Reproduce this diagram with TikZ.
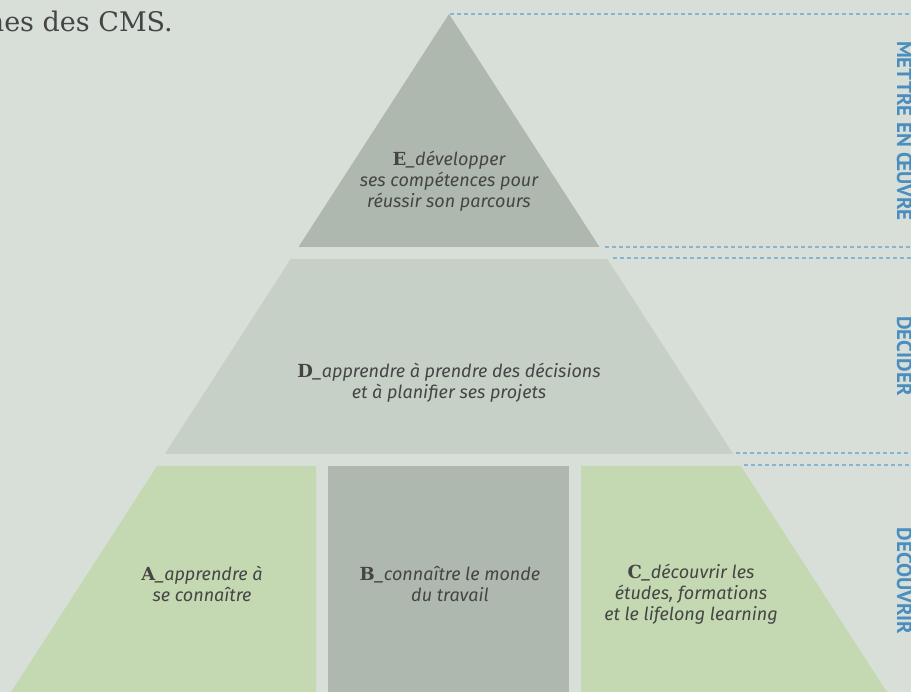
\documentclass[tikz,border=0pt]{standalone}
\usepackage{fontspec}
\setmainfont{Fira Sans}
\newfontfamily\slabfont{DejaVu Serif}
\newfontfamily\phasefont{PT Sans}
\usepackage{tikz}
\usetikzlibrary{positioning}

\definecolor{paper}{HTML}{D8DFD8}
\definecolor{stone}{HTML}{AFB8AF}
\definecolor{mist}{HTML}{C6D0C7}
\definecolor{sage}{HTML}{C4D9B2}
\definecolor{ink}{HTML}{454545}
\definecolor{phaseblue}{HTML}{4A8EC0}
\definecolor{guideblue}{HTML}{86B5D2}

\newcommand{\tierletter}[1]{{\slabfont\bfseries\upshape #1}\_}

\tikzset{
  tier/.style={text=ink, align=center, inner sep=0pt, font=\fontsize{18}{21}\selectfont\itshape},
  phase/.style={text=phaseblue, rotate=-90, anchor=base, inner sep=0pt, font=\fontsize{21}{21}\selectfont\phasefont\bfseries},
  guide/.style={draw=guideblue, line width=1.3pt, dash pattern=on 4pt off 3pt},
}

\begin{document}
\begin{tikzpicture}[x=1pt, y=-1pt]
    \useasboundingbox (0,0) rectangle (911,692);
    \fill[paper] (0,0) rectangle (911,692);
    \coordinate (edge) at (911,0);

    % pyramid corners
    \coordinate (apex) at (449,14);
    \coordinate (eL) at (298.5,247);
    \coordinate (eR) at (599.5,247);
    \coordinate (dTL) at (290.7,259);
    \coordinate (dTR) at (607.3,259);
    \coordinate (dBL) at (164.8,454);
    \coordinate (dBR) at (733.2,454);
    \coordinate (bTL) at (157.1,466);
    \coordinate (bTR) at (740.9,466);
    \coordinate (bBL) at (11.1,692);
    \coordinate (bBR) at (886.9,692);

    \fill[stone] (apex) -- (eR) -- (eL) -- cycle;
    \fill[mist] (dTL) -- (dTR) -- (dBR) -- (dBL) -- cycle;
    \fill[sage] (bTL) -- (316,466) -- (316,692) -- (bBL) -- cycle;
    \fill[stone] (328,466) rectangle (569,692);
    \fill[sage] (581,466) -- (bTR) -- (bBR) -- (581,692) -- cycle;

    % guide lines to the right
    \draw[guide] ([xshift=1pt]apex) -- (apex -| edge);
    \draw[guide] ([xshift=5.5pt]eR) -- (eR -| edge);
    \draw[guide] ([xshift=5.5pt,yshift=1pt]dTR) -- ([yshift=1pt]dTR -| edge);
    \draw[guide] ([xshift=3pt,yshift=1pt]dBR) -- ([yshift=1pt]dBR -| edge);
    \draw[guide] ([xshift=3pt,yshift=1pt]bTR) -- ([yshift=1pt]bTR -| edge);

    \node[anchor=base east, inner sep=0pt, text=ink, font=\fontsize{27}{27}\selectfont\slabfont] (intro) at (173,32) {nes des CMS.};

    \node[tier] (tierE) at (449,181) {\tierletter{E}développer\\ses compétences pour\\réussir son parcours};
    \node[tier] (tierD) at (449,383) {\tierletter{D}apprendre à prendre des décisions\\et à planifier ses projets};
    \node[tier] (tierA) at (202,584) {\tierletter{A}apprendre à\\se connaître};
    \node[tier] (tierB) at (450,584) {\tierletter{B}connaître le monde\\du travail};
    \node[tier] (tierC) at (691,594) {\tierletter{C}découvrir les\\études, formations\\et le lifelong learning};

    \node[phase] (doit) at (897,131) {METTRE EN ŒUVRE};
    \node[phase] (decide) at (897,356) {DECIDER};
    \node[phase] (explore) at (897,581) {DECOUVRIR};
\end{tikzpicture}
\end{document}
